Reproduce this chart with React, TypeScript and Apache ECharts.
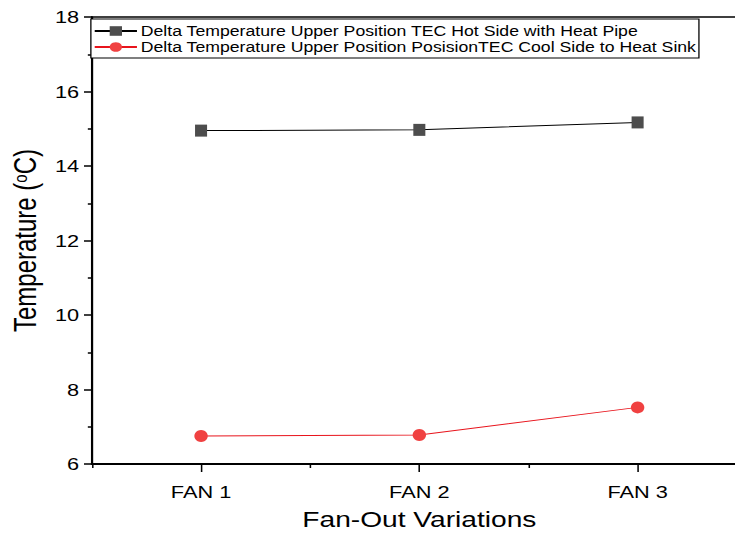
import React, { useEffect, useRef } from "react";
import * as echarts from "echarts";

const categories = ["FAN 1", "FAN 2", "FAN 3"];
const hotSide = [14.95, 14.97, 15.17];
const coolSide = [6.75, 6.78, 7.52];
const hotName = "Delta Temperature Upper Position TEC Hot Side with Heat Pipe";
const coolName = "Delta Temperature Upper Position PosisionTEC Cool Side to Heat Sink";
const yMin = 6;
const yMax = 18;
const yInterval = 2;

const STRETCH = 1.28;
const INNER_W = 590;

export default function App() {
  const ref = useRef<HTMLDivElement>(null);
  useEffect(() => {
    if (!ref.current) return;
    const chart = echarts.init(ref.current, undefined, { renderer: "svg" });
    const font = "'Liberation Sans', Arial, sans-serif";
    chart.setOption({
      animation: false,
      backgroundColor: "#ffffff",
      textStyle: { fontFamily: font },
      grid: {
        left: 68.8,
        top: 17,
        bottom: 72,
        right: 6.6,
        show: true,
        borderColor: "#000",
        borderWidth: 1.5,
        backgroundColor: "transparent",
      },
      legend: {
        orient: "vertical",
        left: 71,
        top: 19,
        itemWidth: 33,
        itemHeight: 12,
        itemGap: 2,
        padding: [5, 2, 4, 2],
        borderColor: "#000",
        borderWidth: 1,
        backgroundColor: "#fff",
        textStyle: { fontSize: 13.8, lineHeight: 14, color: "#000", fontFamily: font, padding: [0, 0, 0, -2] },
        data: [hotName, coolName],
      },
      xAxis: [
        {
          type: "category",
          data: categories,
          boundaryGap: true,
          name: "Fan-Out Variations",
          nameLocation: "middle",
          nameGap: 44,
          nameTextStyle: { fontSize: 22, color: "#000", fontFamily: font },
          axisLine: { show: true, lineStyle: { color: "#000", width: 2 } },
          axisTick: { show: true, alignWithLabel: true, length: 8, lineStyle: { color: "#000", width: 1.2 } },
          axisLabel: { fontSize: 17, color: "#000", margin: 19, fontFamily: font },
          splitLine: { show: false },
        },
        {
          type: "category",
          data: categories,
          boundaryGap: true,
          position: "bottom",
          axisLine: { show: false },
          axisTick: { show: true, length: 4, lineStyle: { color: "#000", width: 1.2 } },
          axisLabel: { show: false },
          splitLine: { show: false },
        },
      ],
      yAxis: {
        type: "value",
        min: yMin,
        max: yMax,
        interval: yInterval,
        name: "{a|Temperature (}{s|o}{a|C)}",
        nameLocation: "middle",
        nameGap: 36,
        nameTextStyle: {
          rich: {
            a: { fontSize: 24, color: "#000", fontFamily: font },
            s: { fontSize: 15, color: "#000", fontFamily: font, verticalAlign: "top", padding: [0, 0, 8, 0] },
          },
        },
        axisLine: { show: true, lineStyle: { color: "#000", width: 1.6 } },
        axisTick: { show: true, length: 6.2, lineStyle: { color: "#000", width: 1.5 } },
        minorTick: { show: true, splitNumber: 2, length: 3.2, lineStyle: { color: "#000", width: 1.5 } },
        axisLabel: { fontSize: 17, color: "#000", margin: 10, fontFamily: font },
        splitLine: { show: false },
      },
      series: [
        {
          name: hotName,
          type: "line",
          data: hotSide,
          symbol: "rect",
          symbolSize: [9.4, 12],
          itemStyle: { color: "#4d4d4d" },
          lineStyle: { color: "#000", width: 1 },
        },
        {
          name: coolName,
          type: "line",
          data: coolSide,
          symbol: "circle",
          symbolSize: [10.5, 12],
          itemStyle: { color: "#f04141" },
          lineStyle: { color: "#e8141c", width: 1 },
        },
      ],
    });
    return () => chart.dispose();
  }, []);
  return (
    <div
      style={{
        position: "absolute",
        left: 0,
        top: 0,
        width: 735,
        height: 536,
        overflow: "hidden",
        background: "#fff",
      }}
    >
      <div
        ref={ref}
        style={{
          width: INNER_W,
          height: 536,
          transform: `scaleX(${STRETCH})`,
          transformOrigin: "0 0",
        }}
      />
    </div>
  );
}
